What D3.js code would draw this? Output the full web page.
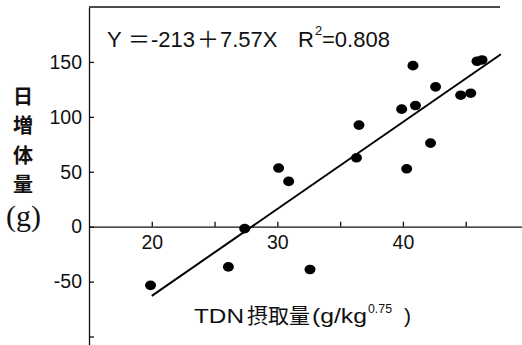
<!DOCTYPE html>
<html>
<head>
<meta charset="utf-8">
<script src="https://cdn.jsdelivr.net/npm/d3@7"></script>
<style>
    body { margin: 0; background: #fff; }
    svg { display: block; }
    .axis path, .axis line { stroke: #111; stroke-width: 1.3px; }
    .axis text { font-family: "Liberation Sans", Arial, sans-serif; font-size: 19.5px; fill: #111; }
    .xtitle { font-family: "Liberation Sans", "Noto Sans CJK JP", sans-serif; font-size: 21px; fill: #111; }
</style>
</head>
<body>
<svg id="chart"></svg>
<script>
// TDN intake (g/kg^0.75) vs daily gain (g)
let tdn  = [19.9, 26.1, 27.4, 30.1, 30.9, 32.6, 36.5, 36.3, 39.9, 41.0, 40.8, 42.2, 40.3, 42.6, 44.6, 45.4, 45.9, 46.3];
let gain = [-53.4, -36.6, -1.8, 53.4, 41.2, -39.0, 92.5, 62.7, 107.0, 110.3, 146.6, 76.1, 52.7, 127.3, 119.7, 121.5, 150.6, 151.8];
// fitted line as drawn (end points)
let fitX = [20, 47.8];
let fitY = [-63, 157];
let xTicks = [20, 25, 30, 35, 40, 45];
let xLabels = [20, 30, 40];
let yTicks = [-100, -50, 0, 50, 100, 150];
let yLabels = [-50, 0, 50, 100, 150];
let yTitle = ["日", "増", "体", "量"];

let graphicopt = {
        width: 522,
        height: 345,
        left: 89,
        top: 7,
        right: 528.5,
        bottom: 347.5
    };

let svg = d3.select("#chart")
    .attr("width", graphicopt.width)
    .attr("height", graphicopt.height);

let x = d3.scaleLinear().domain([15, 50]).range([graphicopt.left, graphicopt.right]);
let y = d3.scaleLinear().domain([-110, 200]).range([graphicopt.bottom, graphicopt.top]);

// top frame line
svg.append("line")
    .attr("x1", x(15)).attr("x2", 500)
    .attr("y1", y(200)).attr("y2", y(200))
    .style("stroke", "#111").style("stroke-width", 1.5);

let yAxis = d3.axisLeft(y)
    .tickValues(yTicks)
    .tickSizeInner(-5)
    .tickSizeOuter(0)
    .tickPadding(7)
    .tickFormat(d => yLabels.includes(d) ? String(d) : "");
svg.append("g")
    .attr("class", "y axis")
    .attr("transform", `translate(${x(15)},0)`)
    .call(yAxis);

let xAxis = d3.axisBottom(x)
    .tickValues(xTicks)
    .tickSizeInner(-5)
    .tickSizeOuter(0)
    .tickPadding(8.5)
    .tickFormat(d => xLabels.includes(d) ? String(d) : "");
svg.append("g")
    .attr("class", "x axis")
    .attr("transform", `translate(0,${y(0)})`)
    .call(xAxis);

// regression line
svg.append("line")
    .attr("x1", x(fitX[0])).attr("y1", y(fitY[0]))
    .attr("x2", x(fitX[1])).attr("y2", y(fitY[1]))
    .style("stroke", "#000").style("stroke-width", 2);

// points
svg.append("g").selectAll("ellipse")
    .data(tdn.map((d, i) => ({x: d, y: gain[i]})))
    .enter().append("ellipse")
    .attr("cx", d => x(d.x))
    .attr("cy", d => y(d.y))
    .attr("rx", 5.5)
    .attr("ry", 4.8)
    .style("fill", "#000");

// equation
let eq = svg.append("text")
    .attr("x", 107)
    .attr("y", 47)
    .style("font-family", "'Liberation Sans', 'Noto Sans CJK JP', sans-serif")
    .style("font-size", "22px")
    .style("fill", "#111");
eq.append("tspan").text("Y");
eq.append("tspan").attr("x", 128).style("font-family", "'Noto Sans CJK JP'").text("＝");
eq.append("tspan").attr("x", 151).text("-213");
eq.append("tspan").attr("x", 197).style("font-family", "'Noto Sans CJK JP'").text("＋");
eq.append("tspan").attr("x", 220).text("7.57X");
eq.append("tspan").attr("x", 298).text("R");
eq.append("tspan").attr("x", 315).attr("dy", -12).style("font-size", "13px").text("2");
eq.append("tspan").attr("x", 322).attr("dy", 12).text("=0.808");

// y title, stacked
svg.append("g").selectAll("text")
    .data(yTitle)
    .enter().append("text")
    .attr("x", 23)
    .attr("y", (d, i) => 104 + i * 29.3)
    .attr("text-anchor", "middle")
    .style("font-family", "'Noto Sans CJK JP', sans-serif")
    .style("font-weight", "bold")
    .style("font-size", "20px")
    .style("fill", "#111")
    .text(d => d);
svg.append("text")
    .attr("x", 23.5)
    .attr("y", 226)
    .attr("text-anchor", "middle")
    .style("font-family", "'Liberation Serif', 'Times New Roman', serif")
    .style("font-size", "30px")
    .style("fill", "#111")
    .text("(g)");

// x title, pieces stretched to the widths seen in the picture
let xtitle = [
    {t: "TDN", x: 194, w: 50},
    {t: "摂取量", x: 247, w: 63, cjk: true},
    {t: "(g/kg", x: 312, w: 55},
    {t: "0.75", x: 368, w: 24, sup: true},
    {t: ")", x: 404, w: 7}
];
svg.append("g").selectAll("text")
    .data(xtitle)
    .enter().append("text")
    .attr("class", "xtitle")
    .attr("x", d => d.x)
    .attr("y", d => d.sup ? 313 : 323)
    .attr("textLength", d => d.w)
    .attr("lengthAdjust", "spacingAndGlyphs")
    .style("font-family", d => d.cjk ? "'Noto Sans CJK JP'" : null)
    .style("font-size", d => d.sup ? "12px" : null)
    .text(d => d.t);
</script>
</body>
</html>
